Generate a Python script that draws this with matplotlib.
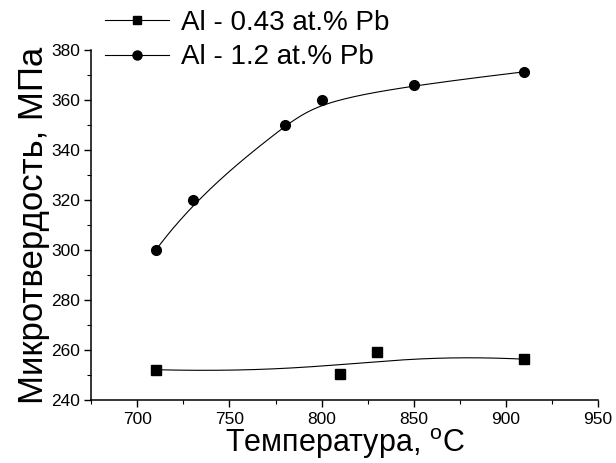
import numpy as np
import matplotlib
matplotlib.use("Agg")
import matplotlib.pyplot as plt
from matplotlib.ticker import MultipleLocator

plt.rcParams["font.family"] = ["Liberation Sans", "DejaVu Sans"]
plt.rcParams["mathtext.fontset"] = "custom"
plt.rcParams["mathtext.rm"] = "Liberation Sans"

# data
temp_043 = [710, 810, 830, 910]
hv_043 = [252.3, 250.5, 259.3, 256.5]

temp_12 = [710, 730, 780, 800, 850, 910]
hv_12 = [300, 320, 350, 360, 366, 371.3]

labels = ["Al - 0.43 at.% Pb", "Al - 1.2 at.% Pb"]


def bspline(px, py, k=3, num=300):
    # clamped B-spline with the data points as control points (Origin-style "B-spline" connect)
    p = np.column_stack([px, py]).astype(float)
    n = len(p)
    k = min(k, n - 1)
    t = np.concatenate([np.zeros(k + 1), np.arange(1, n - k), np.full(k + 1, n - k)])
    u = np.linspace(0, n - k, num)
    u[-1] -= 1e-9
    B = np.array([(t[i] <= u) & (u < t[i + 1]) for i in range(len(t) - 1)], float)
    for d in range(1, k + 1):
        Bn = np.zeros((len(t) - 1 - d, num))
        for i in range(len(t) - 1 - d):
            den1 = t[i + d] - t[i]
            den2 = t[i + d + 1] - t[i + 1]
            term = np.zeros(num)
            if den1 > 0:
                term += (u - t[i]) / den1 * B[i]
            if den2 > 0:
                term += (t[i + d + 1] - u) / den2 * B[i + 1]
            Bn[i] = term
        B = Bn
    c = B.T @ p
    return c[:, 0], c[:, 1]


fig = plt.figure(figsize=(6.16, 4.63), dpi=100)
ax = fig.add_axes([0.148, 0.135, 0.823, 0.757])

cx, cy = bspline(temp_043, hv_043)
ax.plot(cx, cy, color="black", lw=0.8)
ax.plot(temp_043, hv_043, ls="none", marker="s", ms=6.5, color="black")
cx, cy = bspline(temp_12, hv_12)
ax.plot(cx, cy, color="black", lw=0.8)
ax.plot(temp_12, hv_12, ls="none", marker="o", ms=7, color="black")

# legend handles: line with a single marker
h1, = ax.plot([], [], color="black", lw=0.8, marker="s", ms=6)
h2, = ax.plot([], [], color="black", lw=0.8, marker="o", ms=6.5)
fig.legend([h1, h2], labels, loc="upper left", bbox_to_anchor=(105 / 616, 1 - 10 / 463),
           frameon=False, fontsize=20, handlelength=2.3, handletextpad=0.43,
           labelspacing=0.3, borderpad=0, borderaxespad=0, numpoints=1)

ax.set_xlim(675, 950)
ax.set_ylim(240, 380)
ax.xaxis.set_major_locator(MultipleLocator(50))
ax.xaxis.set_minor_locator(MultipleLocator(25))
ax.yaxis.set_major_locator(MultipleLocator(20))
ax.yaxis.set_minor_locator(MultipleLocator(10))
ax.tick_params(which="major", length=5, width=1, labelsize=12.5, pad=3, direction="out")
ax.tick_params(which="minor", length=3, width=0.8, direction="out")

for side in ["top", "right"]:
    ax.spines[side].set_visible(False)
for side in ["left", "bottom"]:
    ax.spines[side].set_linewidth(1.1)

ax.set_xlabel(r"Температура, $^{\rm o}$C", fontsize=22, labelpad=0)
ax.set_ylabel("Микротвердость, МПа", fontsize=25, labelpad=1)

fig.savefig("out.png", dpi=100)
